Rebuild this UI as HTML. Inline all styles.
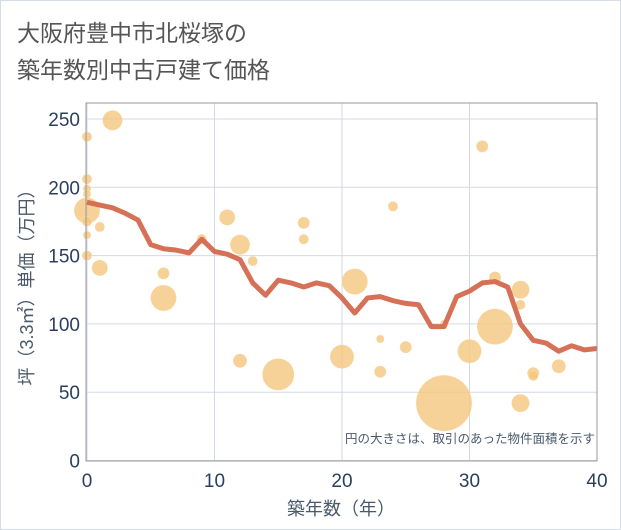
<!DOCTYPE html>
<html><head><meta charset="utf-8"><style>
body{margin:0;background:#fff;}
svg{display:block;font-family:"Liberation Sans","Noto Sans CJK JP",sans-serif;}
</style></head><body>
<svg id="chart" width="621" height="530">
<rect x="0.5" y="0.5" width="620" height="529" fill="#fff" stroke="#d5dde6"/>
<text x="17" y="41" font-size="23" fill="#555">大阪府豊中市北桜塚の</text>
<text x="17" y="78" font-size="23" fill="#555">築年数別中古戸建て価格</text>
<g id="grid"></g>
<g id="bubbles"></g>
<g id="line"></g>
<rect x="86" y="103" width="511" height="358" fill="none" stroke="#999"/>
<g id="axes"></g>
<text x="595" y="443" font-size="12.5" fill="#4a5a6a" text-anchor="end">円の大きさは、取引のあった物件面積を示す</text>
<text x="341" y="515" font-size="18" fill="#4a5a6a" text-anchor="middle">築年数（年）</text>
<text transform="translate(28,283) rotate(-90)" font-size="18" fill="#4a5a6a" text-anchor="middle" dominant-baseline="middle">坪（3.3㎡）単価（万円）</text>
</svg>
<script>
const xTicks=[0,10,20,30,40];
const yTicks=[0,50,100,150,200,250];
const lineYears=[0,1,2,3,4,5,6,7,8,9,10,11,12,13,14,15,16,17,18,19,20,21,22,23,24,25,26,27,28,29,30,31,32,33,34,35,36,37,38,39,40];
const lineValues=[189,187,185,181,176,158,155,154,152,162,153,151,147,130,121,132,130,127,130,128,119,108,119,120,117,115,114,98,98,120,124,130,131,127,100,88,86,80,84,81,82];
const bubbleYears=[0,2,0,0,0,0,0,0,0,1,1,6,6,9,11,12,13,12,15,17,17,21,20,24,23,23,25,28,28,30,31,32,32,34,34,35,35,34,37];
const bubbleValues=[237,249,206,199,183,195,175,165,150,171,141,137,119,162,178,158,146,73,63,174,162,131,76,186,89,65,83,42,100,80,230,98,134,125,114,64,62,42,69];
const bubbleSizes=[5,10,5,4,13,4,5,4,5,5,8,6,13,5,8,10,5,7,16,6,5,13,12,5,4,6,6,28,4,12,6,18,6,9,5,6,5,9,7];
const X=v=>87+v*(510/40);
const Y=v=>460.5-v*(341.5/250);
const ns='http://www.w3.org/2000/svg';
function mk(t,a,p){const e=document.createElementNS(ns,t);for(const k in a)e.setAttribute(k,a[k]);p.appendChild(e);return e;}
const grid=document.getElementById('grid'),axes=document.getElementById('axes');
xTicks.forEach(t=>{
 const l=mk('line',{x1:X(t),x2:X(t),y1:103,y2:461,stroke:'#d0dae6','stroke-width':1},grid);
 
 
 const tx=mk('text',{x:X(t),y:487,'font-size':19,fill:'#2a3f5f','text-anchor':'middle'},axes);
 tx.textContent=t;
 
 
});
yTicks.forEach(t=>{
 const l=mk('line',{x1:86,x2:597,y1:Y(t),y2:Y(t),stroke:'#d0dae6','stroke-width':1},grid);
 
 
 const tx=mk('text',{x:80,y:Y(t)+7,'font-size':19,fill:'#2a3f5f','text-anchor':'end'},axes);
 tx.textContent=t;
 
 
});
const bg=document.getElementById('bubbles');
bubbleYears.forEach((yr,i)=>{
 const c=mk('circle',{cx:X(yr),cy:Y(bubbleValues[i]),r:bubbleSizes[i],fill:'#f5c77e','fill-opacity':0.8,stroke:'#fff','stroke-opacity':0.4,'stroke-width':0.5},bg);
 
 
});
const pts=lineYears.map((yr,i)=>X(yr)+','+Y(lineValues[i])).join(' ');
const pl=mk('polyline',{points:pts,fill:'none',stroke:'#d4694f','stroke-width':5,'stroke-linejoin':'round','stroke-opacity':0.95},document.getElementById('line'));


</script>
</body></html>
